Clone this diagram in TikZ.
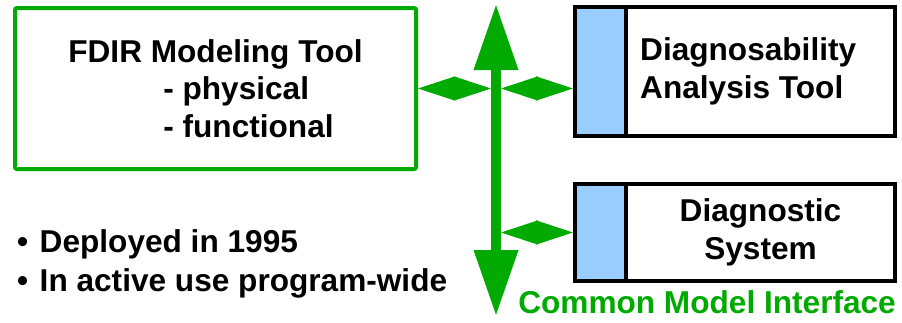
\documentclass[tikz,border=0pt]{standalone}
\usepackage{fontspec}
\setmainfont{Liberation Sans}
\usetikzlibrary{arrows.meta, positioning}
\usepackage{xcolor}
\definecolor{busgreen}{RGB}{0,170,0}
\definecolor{portblue}{RGB}{153,204,255}
\tikzset{
  bigtext/.style={font=\fontsize{31.6}{37.5}\selectfont\bfseries, inner sep=0pt},
  toolbox/.style={draw=black, line width=4pt, fill=white},
  portbox/.style={draw=black, line width=4pt, fill=portblue, minimum width=51pt, inner sep=0pt},
  link/.style={busgreen, line width=1pt,
    {Triangle[length=37pt,width=24pt]}-{Triangle[length=37pt,width=24pt]}},
}

\begin{document}
\begin{tikzpicture}[x=1pt, y=-1pt]
      \useasboundingbox (0,0) rectangle (902,322);
      % modeling tool
      \node[draw=busgreen, line width=4pt, rounded corners=2pt,
        minimum width=401pt, minimum height=161pt, bigtext, align=left]
        (fdir) at (215.5,88.5)
        {FDIR Modeling Tool\\\hspace*{95pt}- physical\\\hspace*{95pt}- functional};
      % common bus
      \coordinate (bustop) at (496,4);
      \coordinate (busbot) at (496,316);
      \draw[busgreen, line width=10pt,
        {Triangle[length=66pt,width=42pt]}-{Triangle[length=66pt,width=42pt]}]
        (bustop) -- (busbot);
      % tools on the bus
      \node[portbox, minimum height=129pt] (datport) at (600.5,71.5) {};
      \node[toolbox, minimum width=269pt, minimum height=129pt] (dat) at (760.5,71.5) {};
      \node[bigtext, align=left, anchor=west] (datlabel) at ([xshift=16pt]dat.west)
        {Diagnosability\\Analysis Tool};
      \node[portbox, minimum height=97pt] (diagport) at (600.5,232.5) {};
      \node[toolbox, minimum width=269pt, minimum height=97pt, bigtext, align=center]
        (diag) at (760.5,232.5) {Diagnostic\\System};
      % links
      \draw[link] (fdir.east) -- ([xshift=-5pt]fdir.east -| bustop);
      \draw[link] ([xshift=5pt]bustop |- fdir.east) -- (datport.west |- fdir.east);
      \draw[link] ([xshift=5pt]bustop |- diagport.west) -- (diagport.west);
      % notes
      \node[bigtext, anchor=base west] (deployed) at (17,252)
        {\textbullet\hspace*{11.5pt}Deployed in 1995};
      \node[bigtext, anchor=base west] (inuse) at (17,291)
        {\textbullet\hspace*{11.5pt}In active use program-wide};
      \node[bigtext, text=busgreen, anchor=base east] (cmi) at (896,313) {Common Model Interface};
    \end{tikzpicture}
\end{document}
